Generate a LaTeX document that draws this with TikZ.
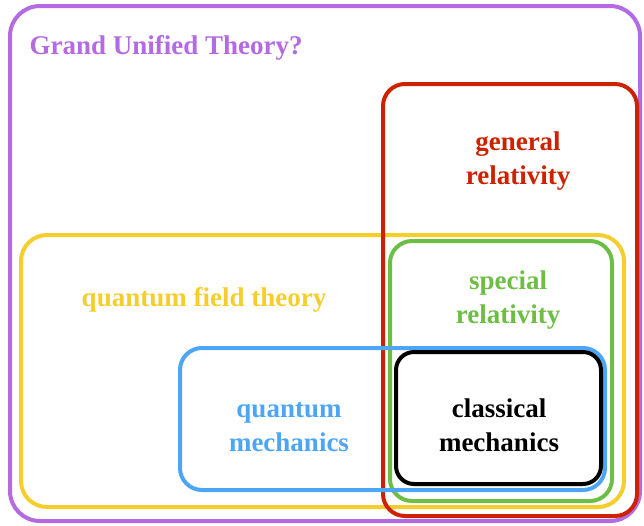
\documentclass[tikz,border=0pt]{standalone}
\usepackage{fontspec}
\setmainfont{Liberation Serif}
\usepackage{tikz}
\usetikzlibrary{positioning}
\definecolor{gutpurple}{HTML}{B36AE2}
\definecolor{grred}{HTML}{CC2200}
\definecolor{qftyellow}{HTML}{F5CE2E}
\definecolor{srgreen}{HTML}{6DBE45}
\definecolor{qmblue}{HTML}{4DA6F5}

\begin{document}
\begin{tikzpicture}[x=1pt, y=-1pt, font=\fontsize{27}{34}\selectfont\bfseries,
    theory/.style={draw=#1, line width=4pt, rounded corners=22pt, inner sep=0pt},
    lbl/.style={text=#1, align=center}
]
    \useasboundingbox (0,0) rectangle (644,525);
    \node[theory=gutpurple, rounded corners=30pt, minimum width=630pt, minimum height=515pt] (gut) at (325,263.5) {};
    \node[theory=qftyellow, rounded corners=26pt, minimum width=603pt, minimum height=272pt] (qft) at (322.5,371) {};
    \node[theory=grred, minimum width=254pt, minimum height=432pt] (gr) at (510,300) {};
    \node[theory=srgreen, minimum width=222pt, minimum height=260pt] (sr) at (501,371) {};
    \node[theory=qmblue, minimum width=425pt, minimum height=142pt] (qm) at (392.5,419) {};
    \node[theory=black, rounded corners=18pt, minimum width=205pt, minimum height=132pt] (cm) at (498.5,418) {};
    \node[lbl=gutpurple, anchor=west] (gutlbl) at (26,48) {Grand Unified Theory?};
    \node[lbl=grred] (grlbl) at (518,161) {general\\relativity};
    \node[lbl=qftyellow] (qftlbl) at (204,300) {quantum field theory};
    \node[lbl=srgreen] (srlbl) at (508,300) {special\\relativity};
    \node[lbl=qmblue] (qmlbl) at (289,427) {quantum\\mechanics};
    \node[lbl=black] (cmlbl) at (499,425) {classical\\mechanics};
\end{tikzpicture}
\end{document}
